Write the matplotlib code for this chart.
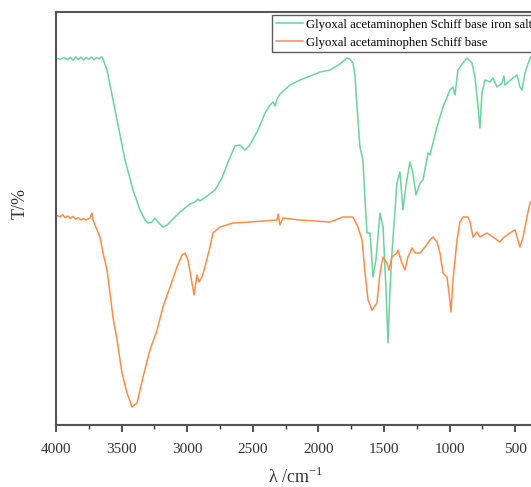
import matplotlib
matplotlib.use("Agg")
import matplotlib.pyplot as plt
from matplotlib.ticker import MultipleLocator

# FTIR transmittance spectra (wavenumber in cm^-1, transmittance in %)
iron_salt_wn = [4000, 3970, 3940, 3910, 3890, 3870, 3850, 3830, 3810, 3790, 3770, 3750,
                3730, 3710, 3690, 3670, 3655, 3645, 3611, 3550, 3474, 3413, 3360, 3322,
                3299, 3268, 3246, 3223, 3185, 3154, 3116, 3055, 2979, 2941, 2918, 2903,
                2849, 2788, 2735, 2689, 2636, 2598, 2560, 2522, 2461, 2407, 2369, 2346,
                2331, 2316, 2293, 2217, 2141, 2065, 1988, 1912, 1836, 1783, 1760, 1737,
                1722, 1706, 1684, 1661, 1645, 1630, 1607, 1584, 1562, 1531, 1508, 1485,
                1470, 1455, 1440, 1402, 1379, 1356, 1333, 1303, 1280, 1257, 1226, 1203,
                1165, 1150, 1097, 1051, 998, 975, 960, 937, 899, 868, 830, 807, 784, 769,
                754, 731, 693, 670, 640, 601, 586, 579, 563, 518, 487, 464, 449, 426, 388,
                350]
iron_salt_t = [95.5, 95.2, 95.6, 95.1, 95.7, 94.9, 95.8, 95.1, 95.7, 95.0, 95.6, 95.2,
               95.7, 95.1, 95.6, 95.3, 95.8, 95.5, 92.5, 82.5, 70.0, 62.5, 57.5, 55.0,
               54.25, 54.5, 55.5, 54.5, 53.25, 53.75, 55.0, 57.0, 59.0, 59.5, 60.25, 59.75,
               61.0, 62.5, 65.5, 69.5, 73.5, 73.75, 72.5, 73.75, 77.5, 81.75, 83.75, 84.5,
               83.5, 85.25, 86.5, 88.75, 90.0, 91.0, 92.0, 92.5, 94.0, 95.5, 95.25, 94.25,
               91.25, 83.25, 73.25, 70.0, 60.0, 51.75, 51.75, 40.75, 45.0, 56.75, 53.25, 37.5,
               24.25, 37.5, 46.75, 64.25, 67.0, 57.5, 63.75, 69.5, 66.75, 61.25, 64.25, 65.0,
               71.75, 71.25, 78.25, 83.25, 87.5, 88.25, 86.25, 92.5, 94.25, 95.5, 94.25, 90.75,
               83.25, 78.0, 86.75, 90.0, 89.5, 90.5, 88.25, 89.25, 91.0, 88.75, 89.25, 90.5,
               91.25, 88.25, 87.5, 91.75, 95.5, 97.5]

schiff_wn = [4000, 3970, 3950, 3930, 3910, 3890, 3870, 3850, 3830, 3810, 3790, 3770, 3741,
             3726, 3718, 3703, 3665, 3642, 3611, 3589, 3566, 3535, 3497, 3459, 3421, 3383,
             3337, 3284, 3230, 3185, 3131, 3078, 3040, 3017, 2994, 2964, 2948, 2926, 2910,
             2888, 2865, 2827, 2804, 2750, 2651, 2522, 2316, 2308, 2293, 2270, 2141, 1912,
             1813, 1737, 1699, 1668, 1645, 1622, 1592, 1554, 1531, 1508, 1478, 1463, 1440,
             1402, 1394, 1364, 1341, 1318, 1287, 1264, 1226, 1188, 1150, 1127, 1097, 1074,
             1051, 1021, 1005, 990, 975, 944, 922, 899, 861, 845, 822, 792, 769, 716, 670,
             617, 594, 541, 502, 480, 464, 441, 411, 388, 350]
schiff_t = [56.25, 55.8, 56.3, 55.6, 56.0, 55.4, 55.9, 55.2, 55.6, 55.0, 55.4, 55.0, 55.5,
            56.75, 55.0, 53.75, 50.75, 46.75, 42.5, 36.75, 30.75, 25.0, 16.75, 11.75, 8.25,
            9.25, 15.75, 22.5, 27.5, 33.25, 38.25, 43.25, 46.25, 46.75, 45.0, 39.25, 36.25,
            41.25, 39.5, 40.75, 43.25, 48.25, 51.75, 53.25, 54.25, 54.5, 55.0, 56.5, 53.75,
            55.5, 55.0, 54.5, 55.75, 55.75, 53.25, 50.0, 41.75, 35.0, 32.5, 34.25, 41.75,
            45.75, 44.25, 42.5, 45.75, 46.75, 47.5, 44.25, 42.5, 45.75, 48.0, 46.75, 46.75,
            48.25, 50.0, 50.75, 49.5, 46.75, 41.75, 40.75, 36.75, 32.0, 40.0, 50.0, 54.5,
            55.75, 55.75, 54.5, 50.75, 52.0, 50.75, 51.75, 50.75, 49.5, 50.5, 51.75, 52.5,
            50.0, 48.25, 50.75, 55.75, 59.25, 61.0]

series_labels = ["Glyoxal acetaminophen Schiff base iron salt",
                 "Glyoxal acetaminophen Schiff base"]
x_ticks = [4000, 3500, 3000, 2500, 2000, 1500, 1000, 500]

plt.rcParams['font.family'] = ['Liberation Serif', 'DejaVu Serif']

fig = plt.figure(figsize=(5.31, 4.87), dpi=100)
ax = fig.add_axes([0.1055, 0.1273, 0.902, 0.848])

ax.plot(iron_salt_wn, iron_salt_t, color='#6cd39c', lw=1.1, label=series_labels[0])
ax.plot(schiff_wn, schiff_t, color='#ff8c4a', lw=1.1, label=series_labels[1])

ax.set_xlim(4000, 350)
ax.set_ylim(3.75, 107)
ax.set_xticks(x_ticks)
ax.xaxis.set_minor_locator(MultipleLocator(250))
ax.set_yticks([])
ax.tick_params(axis='x', which='major', direction='out', length=5, width=1.2,
               labelsize=11, colors='#333333', pad=8)
ax.tick_params(axis='x', which='minor', direction='out', length=3, width=1.0,
               colors='#333333')
for side in ['left', 'bottom', 'top']:
    ax.spines[side].set_color('#555555')
    ax.spines[side].set_linewidth(1.5)
ax.spines['right'].set_visible(False)

ax.set_xlabel('λ /cm$^{\\mathregular{-1}}$', fontsize=13, color='#333333', labelpad=8)
ax.set_ylabel('T/%', fontsize=13, color='#333333')
ax.yaxis.set_label_coords(-0.058, 0.537)

leg = ax.legend(loc='upper left', bbox_to_anchor=(0.451, 0.993), fontsize=9.2,
                frameon=True, fancybox=False, borderpad=0.3, handlelength=2.1,
                handletextpad=0.25, labelspacing=0.45, borderaxespad=0)
leg.get_frame().set_edgecolor('#333333')
leg.get_frame().set_linewidth(1.0)

fig.savefig('out.png', dpi=100)
